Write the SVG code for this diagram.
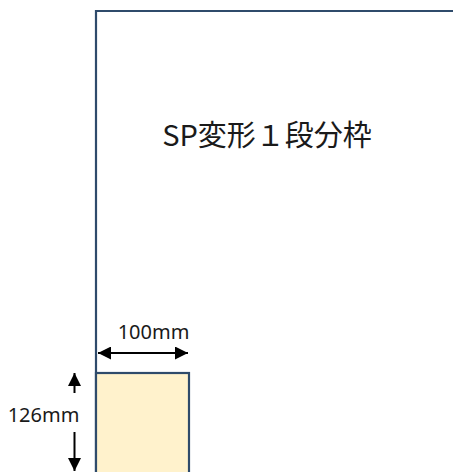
<svg xmlns="http://www.w3.org/2000/svg" width="453" height="472" viewBox="0 0 453 472">
<defs>
<style>
.frame{fill:none;stroke:#2f4b6b;stroke-width:2.2}
.box{fill:#fff2cc;stroke:#2f4b6b;stroke-width:2.2}
.dim{stroke:#000;stroke-width:2;fill:none}
.lbl{font-family:"Noto Sans","Liberation Sans",sans-serif;font-size:20px;fill:#1a1a1a}
.title{font-family:"Noto Sans CJK JP","Noto Sans",sans-serif;font-size:29px;fill:#1a1a1a}
</style>
<marker id="ah" viewBox="0 0 10 10" refX="10" refY="5" markerWidth="14" markerHeight="13" markerUnits="userSpaceOnUse" orient="auto-start-reverse">
<path d="M0,0 L10,5 L0,10 z" fill="#000"/>
</marker>
</defs>
<rect width="453" height="472" fill="#fff"/>
<g id="frame">
<path class="frame" d="M96,472 V11 H460"/>
<text class="title" x="267" y="146" text-anchor="middle">SP変形１段分枠</text>
</g>
<g id="box">
<rect class="box" x="96" y="373" width="93" height="110"/>
</g>
<g id="connectors">
<line class="dim" x1="98" y1="353" x2="188" y2="353" marker-start="url(#ah)" marker-end="url(#ah)"/>
<line class="dim" x1="74.5" y1="393" x2="74.5" y2="373" marker-end="url(#ah)"/>
<line class="dim" x1="74.5" y1="432" x2="74.5" y2="471" marker-end="url(#ah)"/>
</g>
<text class="lbl" x="153.5" y="339" text-anchor="middle">100mm</text>
<text class="lbl" x="43.5" y="422" text-anchor="middle">126mm</text>
</svg>
